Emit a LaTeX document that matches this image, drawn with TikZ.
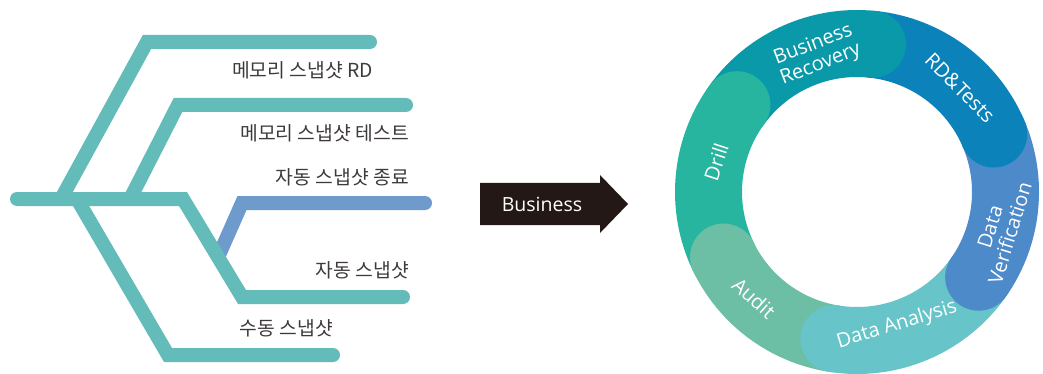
\documentclass[tikz,border=0pt]{standalone}
\usepackage{fontspec}
\setmainfont{Open Sans}
\newfontfamily\kr{Noto Sans CJK KR}
\definecolor{tealA}{HTML}{63BCBA}
\definecolor{blueA}{HTML}{6E9BCC}
\definecolor{txtA}{HTML}{3E3A39}
\definecolor{arrA}{HTML}{231815}
\definecolor{cDrill}{HTML}{27B59F}
\definecolor{cBR}{HTML}{0A99A8}
\definecolor{cRD}{HTML}{0B82BA}
\definecolor{cDV}{HTML}{4C8ACA}
\definecolor{cDA}{HTML}{67C5CA}
\definecolor{cAu}{HTML}{6CBFA4}
\begin{document}
\begin{tikzpicture}[x=1pt,y=-1pt,
  branch/.style={line width=14pt, line cap=round, line join=miter, draw=tealA},
  bluebranch/.style={line width=14pt, line cap=round, line join=miter, draw=blueA},
  lbl/.style={font=\kr\fontsize{19.3}{21}\selectfont, text=txtA, anchor=east, inner sep=0pt},
  ringlbl/.style={font=\fontsize{20}{21}\selectfont, text=white, align=center, inner sep=0pt},
  seg/.style={line width=67pt, line cap=butt}]
\useasboundingbox (0,0) rectangle (1043,374);

% tree coordinates
\coordinate (m0) at (17,199);
\coordinate (m1) at (183,199);
\coordinate (m2) at (242,297);
\coordinate (m3) at (403,297);
\coordinate (t0) at (61,199);
\coordinate (t1) at (147,42);
\coordinate (t2) at (370,42);
\coordinate (s0) at (130,199);
\coordinate (s1) at (178,105);
\coordinate (s2) at (406,105);
\coordinate (b0) at (219,255);
\coordinate (b1) at (242,203);
\coordinate (b2) at (425,203);
\coordinate (d0) at (77,199);
\coordinate (d1) at (168,355);
\coordinate (d2) at (333,355);

\draw[bluebranch, line cap=butt] (b0) -- (b1) -- (b2);
\fill[blueA] (b2) circle[radius=7];
\draw[branch] (t0) -- (t1) -- (t2);
\draw[branch] (s0) -- (s1) -- (s2);
\draw[branch] (d0) -- (d1) -- (d2);
\draw[branch] (m0) -- (m1) -- (m2) -- (m3);

\node[lbl] (l1) at (373,70) {메모리 스냅샷 RD};
\node[lbl] (l2) at (409,133) {메모리 스냅샷 테스트};
\node[lbl] (l3) at (409,177) {자동 스냅샷 종료};
\node[lbl] (l4) at (409,270) {자동 스냅샷};
\node[lbl] (l5) at (333,328) {수동 스냅샷};

% arrow
\fill[arrA] (480,183) -- (600,183) -- (600,175) -- (628,204) -- (600,233) -- (600,225) -- (480,225) -- cycle;
\node[font=\fontsize{19.5}{21}\selectfont, text=white, inner sep=0pt] (biz) at (542,204) {Business};

% ring
\begin{scope}[shift={(857,192)}, y=1pt]
\draw[seg, cDrill] (206:148.5) arc[start angle=206, end angle=144, radius=148.5];
\draw[seg, cBR] (144:148.5) arc[start angle=144, end angle=84, radius=148.5];
\draw[seg, cRD] (84:148.5) arc[start angle=84, end angle=23, radius=148.5];
\draw[seg, cDV] (23:148.5) arc[start angle=23, end angle=-35, radius=148.5];
\draw[seg, cDA] (-35:148.5) arc[start angle=-35, end angle=-99, radius=148.5];
\draw[seg, cAu] (-99:148.5) arc[start angle=-99, end angle=-154, radius=148.5];
\fill[cDrill] (144:148.5) circle[radius=33.5];
\fill[cBR] (84:148.5) circle[radius=33.5];
\fill[cRD] (23:148.5) circle[radius=33.5];
\fill[cDV] (-35:148.5) circle[radius=33.5];
\fill[cDA] (-99:148.5) circle[radius=33.5];
\fill[cAu] (-154:148.5) circle[radius=33.5];
\end{scope}

\node[ringlbl, rotate=21] (nbr) at (817,55) {Business\\Recovery};
\node[ringlbl, rotate=-45] (nrd) at (960,88) {RD\&Tests};
\node[ringlbl, rotate=72] (ndr) at (716,162) {Drill};
\node[ringlbl, rotate=73] (ndv) at (1000,230) {Data\\Verification};
\node[ringlbl, rotate=17] (nda) at (897,325) {Data Analysis};
\node[ringlbl, rotate=-42] (nau) at (754,298) {Audit};
\end{tikzpicture}
\end{document}
